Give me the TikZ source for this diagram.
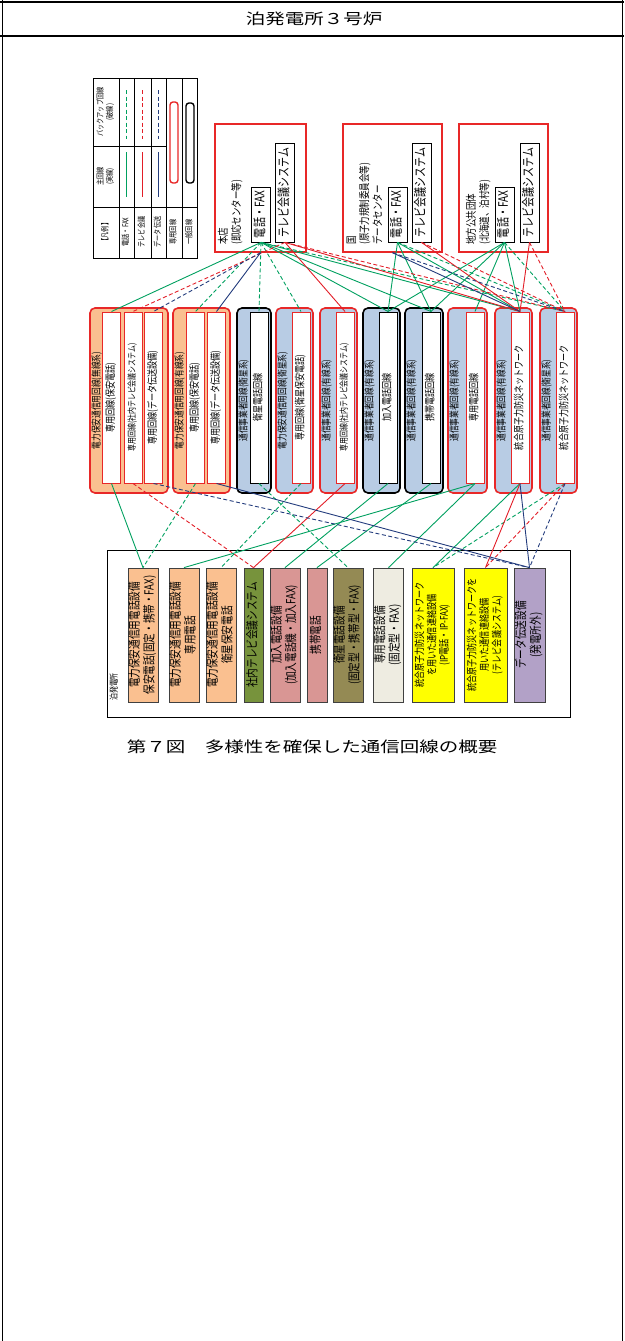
\documentclass[tikz,border=0pt]{standalone}
\usepackage{fontspec}
\usetikzlibrary{positioning}

\newfontfamily\jph[FakeStretch=1.3]{Noto Sans CJK JP}
\newfontfamily\jpv[FakeStretch=0.77]{Noto Sans CJK JP}
\newcommand{\fsz}[2]{\fontsize{#1}{#2}\selectfont}
\newcommand{\vtxt}[1]{\rotatebox{90}{\begin{tabular}{@{}c@{}}#1\end{tabular}}}
\newcommand{\vtxtl}[1]{\rotatebox{90}{\begin{tabular}{@{}l@{}}#1\end{tabular}}}

\definecolor{telgreen}{RGB}{0,160,95}
\definecolor{tvred}{RGB}{226,30,40}
\definecolor{datblue}{RGB}{35,60,125}
\definecolor{boxred}{RGB}{232,40,40}
\definecolor{fillorange}{RGB}{250,192,144}
\definecolor{fillblue}{RGB}{184,204,228}
\definecolor{fillgreen}{RGB}{119,147,60}
\definecolor{fillpink}{RGB}{217,150,148}
\definecolor{fillolive}{RGB}{148,138,84}
\definecolor{filllight}{RGB}{238,236,225}
\definecolor{fillyellow}{RGB}{255,255,0}
\definecolor{fillpurple}{RGB}{178,161,199}

\begin{document}
\begin{tikzpicture}[
  x=1pt, y=-1pt,
  telline/.style={draw=telgreen, line width=0.9pt},
  telback/.style={telline, dash pattern=on 4pt off 2.5pt},
  tvline/.style={draw=tvred, line width=0.9pt},
  tvback/.style={tvline, dash pattern=on 4pt off 2.5pt},
  datline/.style={draw=datblue, line width=0.9pt},
  datback/.style={datline, dash pattern=on 4pt off 2.5pt},
  site/.style={draw=boxred, line width=1.4pt, fill=white, inner sep=0pt,
               minimum height=128pt},
  sitebox/.style={draw, line width=0.8pt, fill=white, inner sep=0pt,
                  minimum width=19pt, font=\jpv\fsz{13}{14}},
  sitelbl/.style={inner sep=0pt, anchor=south, font=\jpv\fsz{11}{12.5}},
  grp/.style={rounded corners=5pt, line width=1.6pt, inner sep=0pt,
              minimum height=185pt},
  grporg/.style={grp, draw=boxred, fill=fillorange},
  grpred/.style={grp, draw=boxred, fill=fillblue},
  grpblk/.style={grp, draw=black, fill=fillblue},
  grplbl/.style={inner sep=0pt, font=\jpv\fsz{10}{12}},
  circ/.style={draw=boxred, line width=1pt, fill=white, inner sep=0pt,
               minimum width=18pt, minimum height=171pt,
               font=\jpv\fsz{10.5}{12}},
  circblk/.style={circ, draw=black},
  equip/.style={draw=black!75, line width=0.8pt, inner sep=0pt,
                minimum height=134pt, font=\jpv\fsz{12.5}{14}},
  lgd/.style={inner sep=0pt, font=\jpv\fsz{8}{9.5}}
]
\useasboundingbox (0,0) rectangle (624,1341);

%--- page frame and title
\draw[line width=1.2pt] (0,2) -- (624,2);
\draw[line width=1.6pt] (0,36) -- (624,36);
\draw[line width=1pt] (2,0) -- (2,1341);
\draw[line width=1pt] (622,0) -- (622,1341);
\node[font=\jph\fsz{15}{18}] (title) at (314,19) {泊発電所３号炉};

%--- legend
\draw[line width=0.8pt] (93,78) rectangle (197,258);
\foreach \x in {119,134,151,166,182}
  \draw[line width=0.6pt] (\x,78) -- (\x,258);
\draw[line width=0.6pt] (93,207) -- (197,207);
\draw[line width=0.6pt] (93,146) -- (166,146);
\draw[telline] (126.5,152) -- (126.5,197);
\draw[telback] (126.5,90)  -- (126.5,139);
\draw[tvline]  (142.5,152) -- (142.5,197);
\draw[tvback]  (142.5,90)  -- (142.5,139);
\draw[datline] (158.5,152) -- (158.5,197);
\draw[datback] (158.5,90)  -- (158.5,139);
\draw[draw=boxred, line width=1.4pt, rounded corners=3pt] (170,102) rectangle (178,183);
\draw[line width=1.4pt, rounded corners=3pt] (186,103) rectangle (194,183);

\node[lgd] (lgdhead) at (106,232)   {\vtxt{【凡例】}};
\node[lgd] (lgdmain) at (106,176.5) {\vtxt{主回線\\(実線)}};
\node[lgd] (lgdback) at (106,112)   {\vtxt{バックアップ回線\\(破線)}};
\node[lgd] (lgdtel)  at (126.5,232) {\vtxt{電話・FAX}};
\node[lgd] (lgdtv)   at (142.5,232) {\vtxt{テレビ会議}};
\node[lgd] (lgddat)  at (158.5,232) {\vtxt{データ伝送}};
\node[lgd] (lgdded)  at (174,232)   {\vtxt{専用回線}};
\node[lgd] (lgdpub)  at (190,232)   {\vtxt{一般回線}};

%--- sites (head office, state, local government)
\node[site, minimum width=91pt]     (hq)    at (260.5,188) {};
\node[sitebox, minimum height=55pt] (hp)    at (261,214.5) {\vtxt{電話・FAX}};
\node[sitebox, minimum height=99pt] (ht)    at (285,192.5) {\vtxt{テレビ会議システム}};
\node[sitelbl]                      (hqlbl) at (231,245)   {\vtxtl{本店\\(即応センター等)}};

\node[site, minimum width=99pt]     (kq)    at (392.5,188) {};
\node[sitebox, minimum height=55pt] (kp)    at (397.5,214.5) {\vtxt{電話・FAX}};
\node[sitebox, minimum height=99pt] (kt)    at (421.5,192.5) {\vtxt{テレビ会議システム}};
\node[sitelbl]                      (kqlbl) at (366,245)   {\vtxtl{国\\(原子力規制委員会等)\\データセンター}};

\node[site, minimum width=89pt]     (cq)    at (503.5,188) {};
\node[sitebox, minimum height=55pt] (cp)    at (504.5,214.5) {\vtxt{電話・FAX}};
\node[sitebox, minimum height=99pt] (ct)    at (529.5,192.5) {\vtxt{テレビ会議システム}};
\node[sitelbl]                      (cqlbl) at (479,245)   {\vtxtl{地方公共団体\\(北海道、泊村等)}};

%--- circuits
\node[grporg, minimum width=78pt] (g1) at (129,400.5) {};
\node[grplbl, right=2pt of g1.west] (g1lbl) {\vtxt{電力保安通信用回線(無線系)}};
\node[circ] (g1a) at (111.5,397.5) {\vtxt{専用回線(保安電話)}};
\node[circ, font=\jpv\fsz{9}{11}] (g1b) at (133,397.5) {\vtxt{専用回線(社内テレビ会議システム)}};
\node[circ] (g1c) at (153.5,397.5) {\vtxt{専用回線(データ伝送設備)}};

\node[grporg, minimum width=57pt] (g2) at (201.5,400.5) {};
\node[grplbl, right=2pt of g2.west] (g2lbl) {\vtxt{電力保安通信用回線(有線系)}};
\node[circ] (g2a) at (195.5,397.5) {\vtxt{専用回線(保安電話)}};
\node[circ] (g2b) at (216.5,397.5) {\vtxt{専用回線(データ伝送設備)}};

\node[grpblk, minimum width=34pt] (g3) at (254,400.5) {};
\node[grplbl, right=2pt of g3.west] (g3lbl) {\vtxt{通信事業者回線(衛星系)}};
\node[circblk] (g3i) at (259,397.5) {\vtxt{衛星電話回線}};

\node[grpred, minimum width=37pt] (g4) at (294.5,400.5) {};
\node[grplbl, right=2pt of g4.west] (g4lbl) {\vtxt{電力保安通信用回線(衛星系)}};
\node[circ] (g4i) at (301,397.5) {\vtxt{専用回線(衛星保安電話)}};

\node[grpred, minimum width=37pt] (g5) at (338.5,400.5) {};
\node[grplbl, right=2pt of g5.west] (g5lbl) {\vtxt{通信事業者回線(有線系)}};
\node[circ, font=\jpv\fsz{9}{11}] (g5i) at (345,397.5) {\vtxt{専用回線(社内テレビ会議システム)}};

\node[grpblk, minimum width=37pt] (g6) at (381.5,400.5) {};
\node[grplbl, right=2pt of g6.west] (g6lbl) {\vtxt{通信事業者回線(有線系)}};
\node[circblk] (g6i) at (388,397.5) {\vtxt{加入電話回線}};

\node[grpblk, minimum width=38pt] (g7) at (424,400.5) {};
\node[grplbl, right=2pt of g7.west] (g7lbl) {\vtxt{通信事業者回線(有線系)}};
\node[circblk] (g7i) at (431,397.5) {\vtxt{携帯電話回線}};

\node[grpred, minimum width=39pt] (g8) at (467.5,400.5) {};
\node[grplbl, right=2pt of g8.west] (g8lbl) {\vtxt{通信事業者回線(有線系)}};
\node[circ] (g8i) at (475,397.5) {\vtxt{専用電話回線}};

\node[grpred, minimum width=37pt] (g9) at (513.5,400.5) {};
\node[grplbl, right=2pt of g9.west] (g9lbl) {\vtxt{通信事業者回線(有線系)}};
\node[circ] (g9i) at (520,397.5) {\vtxt{統合原子力防災ネットワーク}};

\node[grpred, minimum width=37pt] (g10) at (558.5,400.5) {};
\node[grplbl, right=2pt of g10.west] (g10lbl) {\vtxt{通信事業者回線(衛星系)}};
\node[circ] (g10i) at (565,397.5) {\vtxt{統合原子力防災ネットワーク}};

%--- power station equipment
\node[draw, line width=0.8pt, inner sep=0pt, minimum width=463pt,
      minimum height=167pt] (plant) at (338.5,633.5) {};
\node[inner sep=0pt, anchor=south, font=\jpv\fsz{9}{11}] (plantlbl) at (115,701) {\vtxt{泊発電所}};

\node[equip, fill=fillorange, minimum width=30pt] (b1) at (143,635)
  {\vtxt{電力保安通信用電話設備\\保安電話(固定・携帯・FAX)}};
\node[equip, fill=fillorange, minimum width=30pt] (b2) at (184,635)
  {\vtxt{電力保安通信用電話設備\\専用電話}};
\node[equip, fill=fillorange, minimum width=30pt] (b3) at (221,635)
  {\vtxt{電力保安通信用電話設備\\衛星保安電話}};
\node[equip, fill=fillgreen, minimum width=19pt] (b4) at (253.5,635)
  {\vtxt{社内テレビ会議システム}};
\node[equip, fill=fillpink, minimum width=30pt] (b5) at (285,635)
  {\vtxt{加入電話設備\\(加入電話機・加入FAX)}};
\node[equip, fill=fillpink, minimum width=20pt] (b6) at (317,635)
  {\vtxt{携帯電話}};
\node[equip, fill=fillolive, minimum width=30pt] (b7) at (348,635)
  {\vtxt{衛星電話設備\\(固定型・携帯型・FAX)}};
\node[equip, fill=filllight, minimum width=29pt] (b8) at (388.5,635)
  {\vtxt{専用電話設備\\(固定型・FAX)}};
\node[equip, fill=fillyellow, minimum width=42pt, font=\jpv\fsz{10.5}{12}] (b9) at (433,635)
  {\vtxt{統合原子力防災ネットワーク\\を用いた通信連絡設備\\(IP電話・IP-FAX)}};
\node[equip, fill=fillyellow, minimum width=43pt, font=\jpv\fsz{10.5}{12}] (b10) at (485.5,635)
  {\vtxt{統合原子力防災ネットワークを\\用いた通信連絡設備\\(テレビ会議システム)}};
\node[equip, fill=fillpurple, minimum width=31pt] (b11) at (529.5,635)
  {\vtxt{データ伝送設備\\(発電所外)}};

%--- caption
\node[font=\jph\fsz{15}{18}] (caption) at (312,747) {第７図　多様性を確保した通信回線の概要};

%--- sites to circuits
\path[telline]
  (hp.south) edge (g1a.north)
  (hp.south) edge (g6i.north)
  (hp.south) edge (g7i.north)
  (hp.south) edge (g9i.north)
  (kp.south) edge (g6i.north)
  (kp.south) edge (g7i.north)
  (kp.south) edge (g9i.north)
  (cp.south) edge (g6i.north)
  (cp.south) edge (g7i.north)
  (cp.south) edge (g8i.north)
  (cp.south) edge (g9i.north);
\path[telback]
  (hp.south) edge (g2a.north)
  (hp.south) edge (g3i.north)
  (hp.south) edge (g4i.north)
  (hp.south) edge (g10i.north)
  (kp.south) edge (g10i.north)
  (cp.south) edge (g10i.north);
\path[tvline]
  (ht.south) edge (g5i.north)
  (ht.south) edge (g9i.north)
  (kt.south) edge (g9i.north)
  (ct.south) edge (g9i.north);
\path[tvback]
  (ht.south) edge (g1b.north)
  (ht.south) edge (g10i.north)
  (kt.south) edge (g10i.north)
  (ct.south) edge (g10i.north);
\path[datline]
  (hq.south) edge (g2b.north)
  (kq.south) edge (g9i.north);
\path[datback]
  (hq.south) edge (g1c.north)
  (kq.south) edge (g10i.north);

%--- circuits to equipment
\path[telline]
  (g1a.south) edge (b1.north)
  (g6i.south) edge (b5.north)
  (g7i.south) edge (b6.north)
  (g8i.south) edge (b8.north)
  (g8i.south) edge (b2.north)
  (g9i.south) edge (b9.north);
\path[telback]
  (g2a.south)  edge (b1.north)
  (g4i.south)  edge (b3.north)
  (g3i.south)  edge (b7.north)
  (g10i.south) edge (b9.north);
\path[tvline]
  (g5i.south) edge (b4.north)
  (g9i.south) edge (b10.north);
\path[tvback]
  (g1b.south)  edge (b4.north)
  (g10i.south) edge (b10.north);
\path[datline]
  (g2b.south) edge (b11.north)
  (g9i.south) edge (b11.north);
\path[datback]
  (g1c.south)  edge (b11.north)
  (g10i.south) edge (b11.north);

\end{tikzpicture}
\end{document}
